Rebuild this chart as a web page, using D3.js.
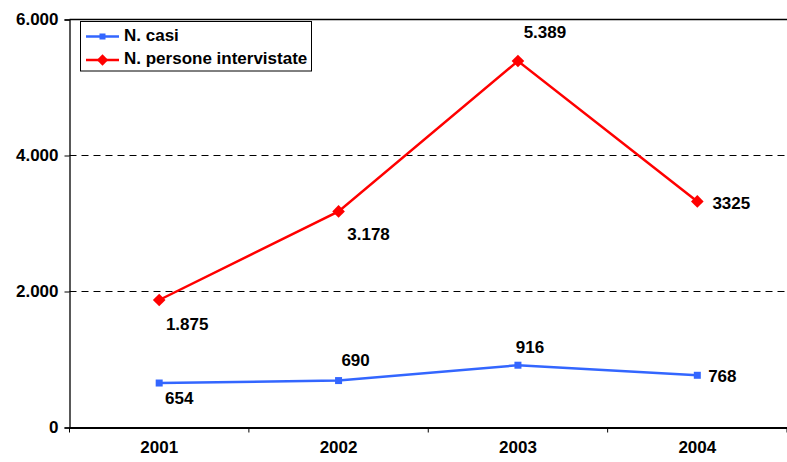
<!DOCTYPE html>
<html><head><meta charset="utf-8">
<script src="https://cdn.jsdelivr.net/npm/d3@7"></script>
<style>body{margin:0;background:#fff}svg{display:block}text{font-family:"Liberation Sans",Arial,sans-serif;font-weight:bold}</style>
</head><body><svg id="c" width="787" height="462"></svg>
<script>
const years = ["2001","2002","2003","2004"];
const casi = [654, 690, 916, 768];
const persone = [1875, 3178, 5389, 3325];
const casiLabels = ["654","690","916","768"];
const personeLabels = ["1.875","3.178","5.389","3325"];
const yTicks = [0, 2000, 4000, 6000];
const yTickLabels = ["0","2.000","4.000","6.000"];
const seriesNames = ["N. casi","N. persone intervistate"];

const FS = 17;
const svg = d3.select("#c");
const L = 69.5, R = 787, T = 19.5, B = 427.5;
const x = d3.scaleBand().domain(years).range([L, R]);
const y = d3.scaleLinear().domain([0, 6000]).range([B, T]);
const cx = d => x(d) + x.bandwidth()/2;

// gridlines
svg.append("g").selectAll("line").data([2000,4000]).join("line")
  .attr("x1", L).attr("x2", R).attr("y1", d=>y(d)).attr("y2", d=>y(d))
  .attr("stroke", "#000").attr("stroke-width", 1).attr("stroke-dasharray", "7,5");
svg.append("line").attr("x1", L).attr("x2", R).attr("y1", y(6000)).attr("y2", y(6000))
  .attr("stroke", "#000").attr("stroke-width", 1.5);

// y axis
const ya = svg.append("g").attr("transform", `translate(${L},0)`)
  .call(d3.axisLeft(y).tickValues(yTicks).tickFormat((d,i)=>yTickLabels[i]).tickSize(5).tickPadding(6));
ya.select(".domain").attr("stroke","#000").attr("stroke-width",1.3);
ya.selectAll(".tick line").attr("stroke","#000");
ya.selectAll("text").attr("font-size", FS).attr("font-family", '"Liberation Sans",Arial,sans-serif').attr("font-weight","bold").attr("fill","#000");

// x axis
const xa = svg.append("g").attr("transform", `translate(0,${B})`)
  .call(d3.axisBottom(x).tickSize(0).tickPadding(13));
xa.select(".domain").attr("stroke","#000").attr("stroke-width",2);
xa.selectAll("text").attr("font-size", FS).attr("font-family", '"Liberation Sans",Arial,sans-serif').attr("font-weight","bold").attr("fill","#000");
const bounds = years.map(d => x(d)).concat([R]);
svg.append("g").selectAll("line").data(bounds).join("line")
  .attr("x1", d=>d).attr("x2", d=>d).attr("y1", B).attr("y2", B+5)
  .attr("stroke","#000").attr("stroke-width",1);

const blue = "#3366ff", red = "#ff0000";
const line = d3.line().x((d,i)=>cx(years[i])).y(d=>y(d));

// blue series
svg.append("path").datum(casi).attr("d", line).attr("fill","none").attr("stroke", blue).attr("stroke-width", 2.5);
svg.append("g").selectAll("rect").data(casi).join("rect")
  .attr("x",(d,i)=>cx(years[i])-3.5).attr("y",d=>y(d)-3.5).attr("width",7).attr("height",7).attr("fill",blue);

// red series
svg.append("path").datum(persone).attr("d", line).attr("fill","none").attr("stroke", red).attr("stroke-width", 2.5);
svg.append("g").selectAll("path").data(persone).join("path")
  .attr("transform",(d,i)=>`translate(${cx(years[i])},${y(d)}) rotate(45)`)
  .attr("d", d3.symbol().type(d3.symbolSquare).size(80)).attr("fill", red);

// data labels (offsets relative to points)
const casiOff = [[20,16],[17,-19],[12,-17],[25,2]];
const persOff = [[28,26],[30,24],[27,-28],[34,3]];
svg.append("g").selectAll("text").data(casi).join("text")
  .attr("x",(d,i)=>cx(years[i])+casiOff[i][0]).attr("y",(d,i)=>y(d)+casiOff[i][1])
  .attr("text-anchor","middle").attr("dominant-baseline","middle").attr("font-size",FS).text((d,i)=>casiLabels[i]);
svg.append("g").selectAll("text").data(persone).join("text")
  .attr("x",(d,i)=>cx(years[i])+persOff[i][0]).attr("y",(d,i)=>y(d)+persOff[i][1])
  .attr("text-anchor","middle").attr("dominant-baseline","middle").attr("font-size",FS).text((d,i)=>personeLabels[i]);

// legend
const lg = svg.append("g");
lg.append("rect").attr("x",80.5).attr("y",21.5).attr("width",231).attr("height",49.5)
  .attr("fill","#fff").attr("stroke","#000").attr("stroke-width",1);
const colors = [blue, red];
seriesNames.forEach((n,i)=>{
  const yy = 36.5 + i*23.5;
  lg.append("line").attr("x1",86).attr("x2",119).attr("y1",yy).attr("y2",yy).attr("stroke",colors[i]).attr("stroke-width",2.5);
  if(i===0) lg.append("rect").attr("x",99.5).attr("y",yy-3).attr("width",6).attr("height",6).attr("fill",blue);
  else lg.append("path").attr("transform",`translate(102.5,${yy}) rotate(45)`).attr("d", d3.symbol().type(d3.symbolSquare).size(64)).attr("fill",red);
  lg.append("text").attr("x",124).attr("y",yy).attr("dominant-baseline","middle").attr("font-size",FS).text(n);
});
</script></body></html>
